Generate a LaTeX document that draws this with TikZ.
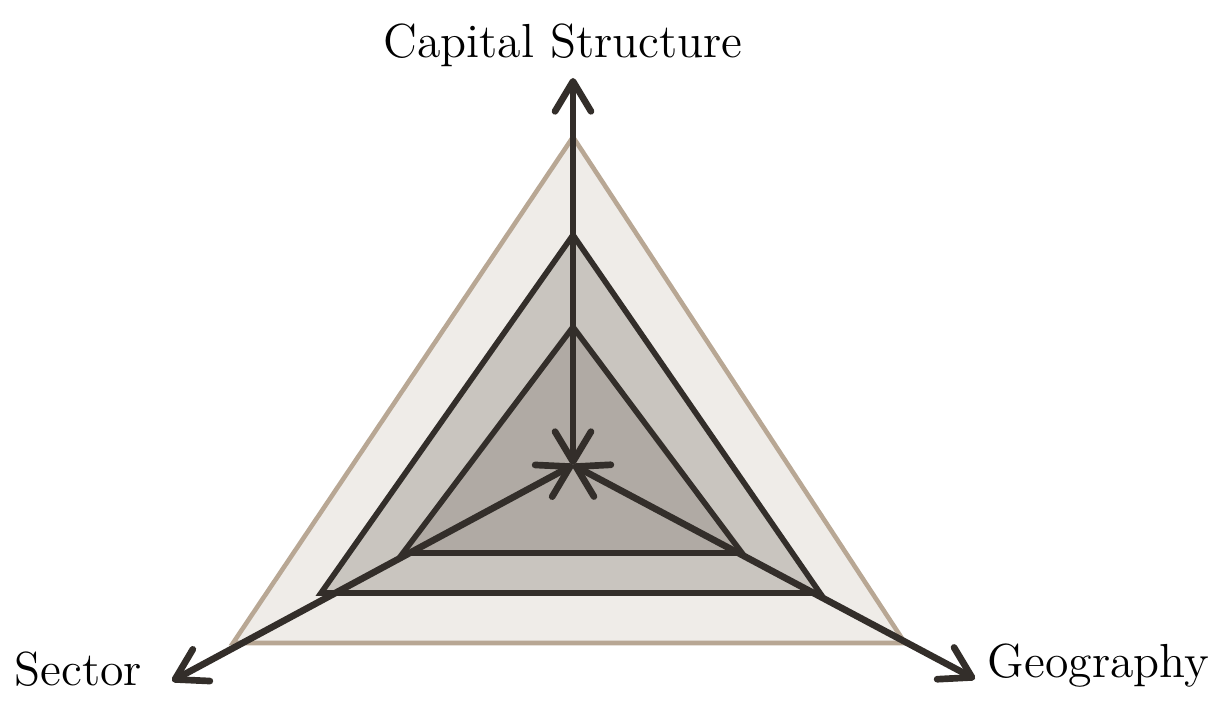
\documentclass[tikz,border=0pt]{standalone}
\usetikzlibrary{arrows.meta}
\definecolor{ink}{HTML}{332E2A}
\definecolor{sand}{HTML}{B8A794}
\definecolor{paper}{HTML}{EFECE8}
\definecolor{stone}{HTML}{C9C5BF}
\definecolor{slate}{HTML}{B0AAA4}
\begin{document}
\begin{tikzpicture}
			\tikzstyle{level}=[draw=ink,line width=1.6pt,line join=miter]
			\tikzstyle{axis}=[draw=ink,line width=1.9pt,{Straight Barb[length=3mm,width=3.6mm,round]}-{Straight Barb[length=3mm,width=3.6mm,round]}]
			\tikzstyle{label}=[font=\fontsize{13.6}{16}\selectfont,text=black,inner sep=0pt]
			
			\useasboundingbox (0,0) rectangle (12.18,7.27);
			
			\coordinate (O) at (5.73,2.62);
			\coordinate (CapTip) at (5.73,6.49);
			\coordinate (SecTip) at (1.72,0.46);
			\coordinate (GeoTip) at (9.75,0.48);
			
			\filldraw[fill=paper,draw=sand,line width=1.3pt] (5.73,5.90) -- (2.33,0.84) -- (9.05,0.84) -- cycle;
			\filldraw[level,fill=stone] (5.73,4.92) -- (3.21,1.34) -- (8.20,1.34) -- cycle;
			\filldraw[level,fill=slate] (5.73,4.00) -- (4.03,1.74) -- (7.42,1.74) -- cycle;
			
			\draw[axis] (O) -- (CapTip);
			\draw[axis] (O) -- (SecTip);
			\draw[axis] (O) -- (GeoTip);
			
			\node[label,anchor=base] (Cap) at (5.63,6.69) {Capital Structure};
			\node[label,anchor=base west] (Sec) at (0.14,0.42) {Sector};
			\node[label,anchor=base west] (Geo) at (9.87,0.50) {Geography};
			
			
			\end{tikzpicture}
\end{document}
